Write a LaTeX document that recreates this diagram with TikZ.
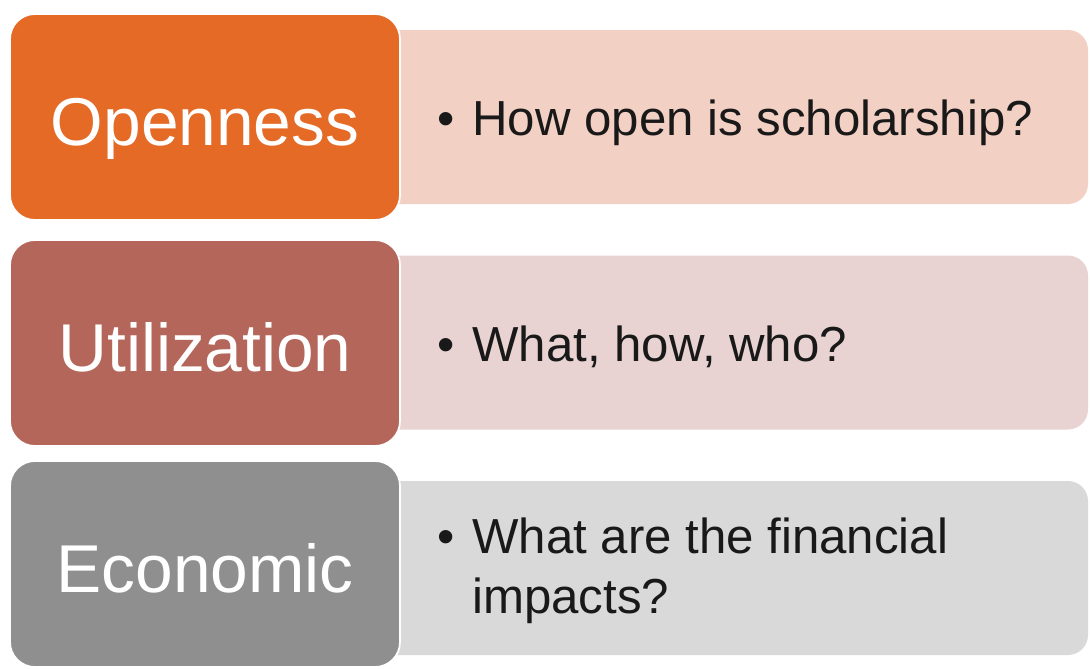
\documentclass[tikz,border=0pt]{standalone}
\usepackage{fontspec}
\setmainfont{Liberation Sans}
\definecolor{openorange}{RGB}{228,106,38}
\definecolor{usebrown}{RGB}{180,102,90}
\definecolor{econgray}{RGB}{143,143,143}
\definecolor{openpale}{RGB}{243,208,196}
\definecolor{usepale}{RGB}{233,211,210}
\definecolor{econpale}{RGB}{217,217,217}
\newcommand{\qitem}[1]{\makebox[0.7cm][l]{\textbullet}\parbox[t]{12cm}{\raggedright #1}}
\begin{document}
\begin{tikzpicture}[
    catbox/.style={rounded corners=0.5cm, draw=white, line width=1pt, minimum width=7.8cm, minimum height=4.12cm,
        text=white, font=\fontsize{38.5}{44}\selectfont, text height=32.5pt, text depth=0pt},
    qbox/.style={rounded corners=0.4cm, minimum width=14.56cm, minimum height=3.48cm},
    qtext/.style={anchor=base west, inner sep=0pt, text=black!90, font=\fontsize{28}{34.5}\selectfont}
]
    \useasboundingbox (0,0) rectangle (21.8,-13.36);
    \node[qbox, fill=openpale] (openq) at (14.48,-2.34) {};
    \node[qbox, fill=usepale] (useq) at (14.48,-6.85) {};
    \node[qbox, fill=econpale] (econq) at (14.48,-11.36) {};
    \node[catbox, fill=openorange] (open) at (4.1,-2.34) {Openness};
    \node[catbox, fill=usebrown] (use) at (4.1,-6.86) {Utilization};
    \node[catbox, fill=econgray] (econ) at (4.1,-11.28) {Economic};
    \node[qtext] (opentext) at (8.74,-2.70) {\qitem{How open is scholarship?}};
    \node[qtext] (usetext) at (8.74,-7.22) {\qitem{What, how, who?}};
    \node[qtext] (econtext) at (8.74,-11.06) {\qitem{What are the financial\\impacts?}};
\end{tikzpicture}
\end{document}
